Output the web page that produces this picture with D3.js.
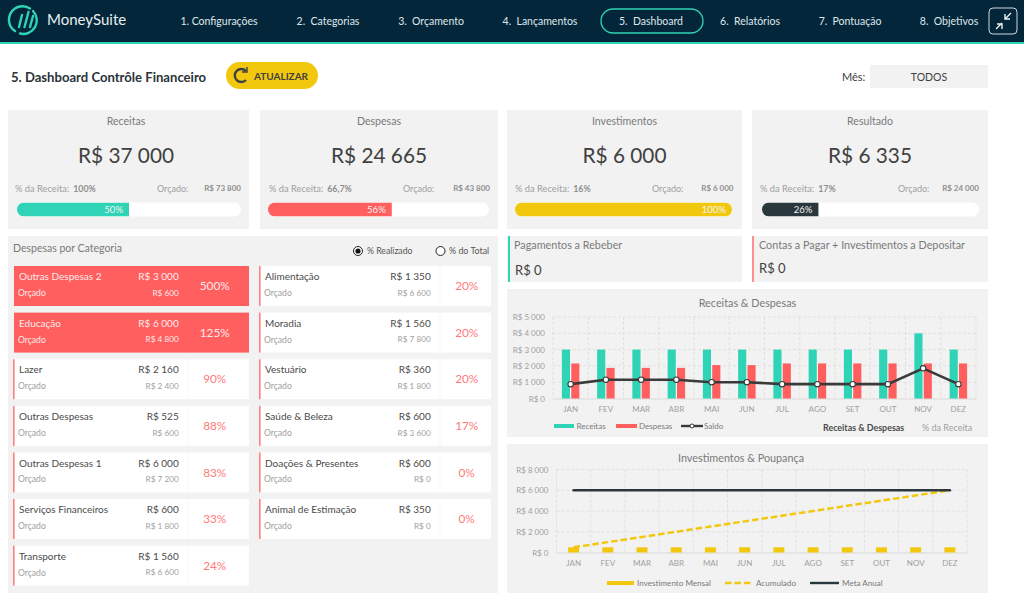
<!DOCTYPE html>
<html>
<head>
<meta charset="utf-8">
<script src="https://cdn.jsdelivr.net/npm/d3@7"></script>
<style>
  body { margin: 0; background: #fff; }
  svg { display: block; }
  text { font-family: Lato, "Open Sans", sans-serif; }
</style>
</head>
<body>
<svg id="board" width="1024" height="602"></svg>
<script>
// menu
var navLabels = ['1. Configurações', '2.  Categorias', '3.  Orçamento', '4.  Lançamentos', '5.  Dashboard', '6.  Relatórios', '7.  Pontuação', '8.  Objetivos'];
var navCenters = [219, 328, 431, 540, 651, 750, 850, 949];

// top cards
var kpiTitles = ['Receitas', 'Despesas', 'Investimentos', 'Resultado'];
var kpiValues = [37000, 24665, 6000, 6335];
var kpiShare = ['100%', '66,7%', '16%', '17%'];
var kpiBudget = [73800, 43800, 6000, 24000];
var kpiProgress = [50, 56, 100, 26];

// expenses by category
var catNames = ['Outras Despesas 2', 'Educação', 'Lazer', 'Outras Despesas', 'Outras Despesas 1', 'Serviços Financeiros', 'Transporte', 'Alimentação', 'Moradia', 'Vestuário', 'Saúde & Beleza', 'Doações & Presentes', 'Animal de Estimação'];
var catRealized = [3000, 6000, 2160, 525, 6000, 600, 1560, 1350, 1560, 360, 600, 600, 350];
var catBudget = [600, 4800, 2400, 600, 7200, 1800, 6600, 6600, 7800, 1800, 3600, 0, 0];
var catPct = [500, 125, 90, 88, 83, 33, 24, 20, 20, 20, 17, 0, 0];

// monthly charts
var months = ['JAN', 'FEV', 'MAR', 'ABR', 'MAI', 'JUN', 'JUL', 'AGO', 'SET', 'OUT', 'NOV', 'DEZ'];
var receitas = [3000, 3000, 3000, 3000, 3000, 3000, 3000, 3000, 3000, 3000, 4000, 3000];
var despesas = [2150, 1880, 1880, 1880, 2050, 2050, 2150, 2150, 2150, 2150, 2150, 2150];
var saldo = [880, 1150, 1150, 1150, 1000, 1000, 880, 880, 880, 880, 1850, 880];
var ticksReceitas = [0, 1000, 2000, 3000, 4000, 5000];

var investMensal = [500, 500, 500, 500, 500, 500, 500, 500, 500, 500, 500, 500];
var acumulado = [500, 1000, 1500, 2000, 2500, 3000, 3500, 4000, 4500, 5000, 5500, 6000];
var metaAnual = [6000, 6000, 6000, 6000, 6000, 6000, 6000, 6000, 6000, 6000, 6000, 6000];
var ticksInvest = [0, 2000, 4000, 6000, 8000];

var TEAL = '#2fd3b5', RED = '#ff5f5f', YELLOW = '#f2c80f', DARK = '#2a373c', NAVY = '#04263b';
var PANEL = '#f2f2f2', INK = '#404040', MID = '#7a7a7a', SOFT = '#a0a0a0';

var brl = d3.formatLocale({ decimal: ',', thousands: ' ', grouping: [3], currency: ['R$ ', ''] }).format('$,.0f');

var svg = d3.select('#board');

// small helpers so the layout code below stays readable
function label(g, x, y, txt, size, color, anchor, weight) {
  return g.append('text')
    .attr('x', x).attr('y', y)
    .attr('dy', '0.35em')
    .attr('font-size', size)
    .attr('fill', color)
    .attr('text-anchor', anchor || 'start')
    .attr('font-weight', weight || 400)
    .text(txt);
}
function box(g, x, y, w, h, fill, r) {
  return g.append('rect').attr('x', x).attr('y', y).attr('width', w).attr('height', h).attr('fill', fill).attr('rx', r || 0);
}

// header
box(svg, 0, 0, 1024, 42, NAVY);
box(svg, 0, 42, 1024, 2, TEAL);

var logo = svg.append('g').attr('fill', 'none').attr('stroke', TEAL).attr('stroke-width', 2.4).attr('stroke-linecap', 'round');
logo.append('path').attr('d', 'M15 31 A13.5 13.5 0 0 1 30 8.5');
logo.append('path').attr('d', 'M33 11 A13.5 13.5 0 0 1 20 33.5');
logo.append('path').attr('d', 'M19 27 L22 15 M24.5 27 L28.5 12 M30 27 L33 16');
label(svg, 47, 19.5, 'MoneySuite', 15, '#e8eef0');

svg.selectAll('.nav').data(navLabels).join('text')
  .attr('class', 'nav')
  .attr('x', function(d, i) { return navCenters[i]; })
  .attr('y', 21)
  .attr('dy', '0.35em')
  .attr('text-anchor', 'middle')
  .attr('font-size', 10.5)
  .attr('fill', '#dfe6ea')
  .style('white-space', 'pre')
  .text(function(d) { return d; });

svg.append('rect').attr('x', 601).attr('y', 9).attr('width', 102).attr('height', 24).attr('rx', 12)
  .attr('fill', 'none').attr('stroke', TEAL).attr('stroke-width', 1.3);
svg.append('rect').attr('x', 989).attr('y', 8).attr('width', 28).attr('height', 26).attr('rx', 4)
  .attr('fill', 'none').attr('stroke', '#cfd8dc').attr('stroke-width', 1);
svg.append('path')
  .attr('d', 'M1011 13 L1005 19 M1005 14 V19 H1010 M996 29 L1002 23 M997 24 H1002 V29')
  .attr('fill', 'none').attr('stroke', '#eef2f3').attr('stroke-width', 1.4);

// page title row
label(svg, 11, 77, '5. Dashboard Contrôle Financeiro', 13.1, '#2b3338', 'start', 700);
box(svg, 226, 62, 92, 27, YELLOW, 13.5);
svg.append('path').attr('d', 'M246 71 A6.5 6.5 0 1 0 246 80').attr('fill', 'none').attr('stroke', INK).attr('stroke-width', 2.4);
svg.append('path').attr('d', 'M247 67 V72 H242').attr('fill', 'none').attr('stroke', INK).attr('stroke-width', 1.4);
label(svg, 254, 76, 'ATUALIZAR', 10, INK, 'start', 700);
label(svg, 842, 77, 'Mês:', 11, INK);
box(svg, 870, 65, 118, 23, PANEL);
label(svg, 929, 77, 'TODOS', 10.5, INK, 'middle');

// KPI cards
var kpiColors = [TEAL, RED, YELLOW, DARK];
var kpiX = [8, 260, 507, 752];
var kpiW = [241, 238, 235, 236];
var kpiMid = [126, 379, 624.5, 870];
var shareX = [15, 269, 515, 760];
var orcadoX = [157, 403, 652, 898];
var budgetEnd = [241, 490, 733.5, 979];
var barX = [17, 268, 515, 762];
var barW = [224, 221, 217, 217];

kpiTitles.forEach(function(title, i) {
  var g = svg.append('g');
  box(g, kpiX[i], 110, kpiW[i], 119, PANEL);
  label(g, kpiMid[i], 121.5, title, 10.6, MID, 'middle');
  label(g, kpiMid[i], 155.5, brl(kpiValues[i]), 20.8, INK, 'middle');
  var shareText = label(g, shareX[i], 188.5, '% da Receita:', 9.3, SOFT);
  shareText.append('tspan').attr('dx', 4).attr('font-weight', 700).attr('fill', '#8f8f8f').attr('font-size', 8.8).text(kpiShare[i]);
  label(g, orcadoX[i], 188.5, 'Orçado:', 9, SOFT);
  label(g, budgetEnd[i], 188.5, brl(kpiBudget[i]), 8, '#8f8f8f', 'end', 700);

  var scale = d3.scaleLinear().domain([0, 100]).range([0, barW[i]]);
  svg.append('clipPath').attr('id', 'track' + i).append('rect')
    .attr('x', barX[i]).attr('y', 202.5).attr('width', barW[i]).attr('height', 14).attr('rx', 7);
  box(g, barX[i], 202.5, barW[i], 14, '#fff', 7);
  box(g, barX[i], 202.5, scale(kpiProgress[i]), 14, kpiColors[i]).attr('clip-path', 'url(#track' + i + ')');
  label(g, barX[i] + scale(kpiProgress[i]) - 6, 209.5, kpiProgress[i] + '%', 9.5, '#f4f4f4', 'end');
});

// receivable / payable strips
[['Pagamentos a Rebeber', 507, TEAL, 235, 7, 270], ['Contas a Pagar + Investimentos a Depositar', 752, '#ff8f8f', 236, 7, 268]].forEach(function(s) {
  box(svg, s[1], 236, s[3], 46, PANEL);
  box(svg, s[1] + (s[1] === 507 ? 1 : 0), 236, 2, 46, s[2]);
  label(svg, s[1] + s[4], 245.5, s[0], 10.8, MID);
  label(svg, s[1] + s[4] + (s[1] === 507 ? 1 : 0), s[5], brl(0), 13, INK);
});

// expenses panel
box(svg, 8, 236, 490, 357, PANEL);
label(svg, 13, 248, 'Despesas por Categoria', 10.5, MID);
svg.append('circle').attr('cx', 358).attr('cy', 251).attr('r', 4.5).attr('fill', '#fff').attr('stroke', '#222');
svg.append('circle').attr('cx', 358).attr('cy', 251).attr('r', 2.6).attr('fill', '#111');
label(svg, 367, 251, '% Realizado', 8.7, '#555');
svg.append('circle').attr('cx', 440.5).attr('cy', 251).attr('r', 4.5).attr('fill', '#fff').attr('stroke', '#222');
label(svg, 449, 251, '% do Total', 8.9, '#555');

var catCards = svg.selectAll('.cat').data(catNames).join('g')
  .attr('class', 'cat')
  .attr('transform', function(d, i) {
    var col = i < 7 ? 0 : 1, row = i < 7 ? i : i - 7;
    return 'translate(' + (col ? 259 : 13) + ',' + (266 + row * 46.6) + ')';
  });

catCards.each(function(name, i) {
  var g = d3.select(this);
  var right = i < 7 ? 236 : 232;
  var split = i < 7 ? 174.7 : 180.7;
  var hot = catPct[i] > 100;
  box(g, hot ? 1 : 0, 0, hot ? right - 1 : right, 40, hot ? RED : '#fff');
  if (!hot) {
    box(g, 0, 0, 1.6, 40, '#ff8080');
    box(g, split, 0, 0.6, 40, PANEL);
  }
  var pale = '#fbeaea';
  label(g, 6, 10.7, name, 10, hot ? pale : '#4a4a4a');
  label(g, split - 9, 10.7, brl(catRealized[i]), 10, hot ? pale : '#4a4a4a', 'end');
  label(g, 5, 27, 'Orçado', 8.6, hot ? pale : SOFT);
  label(g, split - 9, 27, brl(catBudget[i]), 8.2, hot ? pale : SOFT, 'end');
  label(g, split + 27, 20, catPct[i] + '%', 11.8, hot ? pale : '#ff7a7a', 'middle');
});

// shared chart frame: grid, month labels and value labels
function chartFrame(top, height, title, titleX, titleY, titleSize, plot, ticks, maxV) {
  var g = svg.append('g');
  box(g, 507, top, 481, height, PANEL);
  label(g, titleX, titleY, title, titleSize, MID, 'middle');

  var x = d3.scaleBand().domain(months).range([plot.left, plot.right]);
  var y = d3.scaleLinear().domain([0, maxV]).range([plot.bottom, plot.top]);

  var grid = g.append('g');
  grid.selectAll('.h').data(ticks.slice(1)).join('line')
    .attr('x1', plot.left).attr('x2', plot.right)
    .attr('y1', function(d) { return y(d); }).attr('y2', function(d) { return y(d); })
    .attr('stroke', '#e0e0e0').attr('stroke-dasharray', '3,2');
  grid.selectAll('.v').data(months).join('line')
    .attr('x1', function(d) { return x(d) + x.bandwidth(); }).attr('x2', function(d) { return x(d) + x.bandwidth(); })
    .attr('y1', plot.top).attr('y2', plot.bottom)
    .attr('stroke', '#e0e0e0').attr('stroke-dasharray', '3,2');
  grid.append('line').attr('x1', plot.left).attr('x2', plot.left).attr('y1', plot.top).attr('y2', plot.bottom)
    .attr('stroke', '#e0e0e0').attr('stroke-dasharray', '3,2');

  var yAxis = g.append('g').attr('transform', 'translate(' + plot.left + ',0)')
    .call(d3.axisLeft(y).tickValues(ticks).tickFormat(brl).tickSize(0).tickPadding(plot.pad));
  yAxis.select('.domain').remove();
  yAxis.selectAll('text').attr('font-size', 8).attr('fill', SOFT).style('font-family', 'Lato');

  var xAxis = g.append('g').attr('transform', 'translate(0,' + plot.bottom + ')')
    .call(d3.axisBottom(x).tickSize(0).tickPadding(plot.xPad));
  xAxis.select('.domain').attr('stroke', '#d9d9d9');
  xAxis.selectAll('text').attr('font-size', 8).attr('fill', SOFT).style('font-family', 'Lato');

  return { g: g, x: x, y: y };
}

// Receitas & Despesas
var c1 = chartFrame(289, 148, 'Receitas & Despesas', 747.5, 303, 10.8, { left: 553, right: 976, top: 317, bottom: 398.5, pad: 8, xPad: 8 }, ticksReceitas, 5000);
var inner = d3.scaleBand().domain(['r', 'd']).range([0, c1.x.bandwidth()]).paddingInner(0.13).paddingOuter(0.95);

c1.g.selectAll('.rec').data(receitas).join('rect')
  .attr('x', function(d, i) { return c1.x(months[i]) + inner('r'); })
  .attr('y', function(d) { return c1.y(d); })
  .attr('width', inner.bandwidth())
  .attr('height', function(d) { return c1.y(0) - c1.y(d); })
  .attr('fill', TEAL);
c1.g.selectAll('.des').data(despesas).join('rect')
  .attr('x', function(d, i) { return c1.x(months[i]) + inner('d'); })
  .attr('y', function(d) { return c1.y(d); })
  .attr('width', inner.bandwidth())
  .attr('height', function(d) { return c1.y(0) - c1.y(d); })
  .attr('fill', RED);

var saldoLine = d3.line()
  .x(function(d, i) { return c1.x(months[i]) + c1.x.bandwidth() / 2; })
  .y(function(d) { return c1.y(d); });
c1.g.append('path').attr('d', saldoLine(saldo)).attr('fill', 'none').attr('stroke', '#3a3a3a').attr('stroke-width', 2.6);
c1.g.selectAll('.sal').data(saldo).join('circle')
  .attr('cx', function(d, i) { return c1.x(months[i]) + c1.x.bandwidth() / 2; })
  .attr('cy', function(d) { return c1.y(d); })
  .attr('r', 2.7).attr('fill', '#fff').attr('stroke', '#3a3a3a').attr('stroke-width', 1.1);

box(c1.g, 554, 424, 20, 4, TEAL);
label(c1.g, 576.5, 426, 'Receitas', 8, MID);
box(c1.g, 616, 424, 21, 4, RED);
label(c1.g, 639, 426, 'Despesas', 8, MID);
c1.g.append('line').attr('x1', 681).attr('x2', 703).attr('y1', 426).attr('y2', 426).attr('stroke', '#3a3a3a').attr('stroke-width', 2.4);
c1.g.append('circle').attr('cx', 692).attr('cy', 426).attr('r', 2).attr('fill', '#fff').attr('stroke', '#3a3a3a');
label(c1.g, 704, 426, 'Saldo', 8, MID);
label(c1.g, 823, 428, 'Receitas & Despesas', 8.9, '#4a4a4a', 'start', 700);
label(c1.g, 922, 428, '% da Receita', 9, SOFT);

// Investimentos & Poupança
var c2 = chartFrame(444, 149, 'Investimentos & Poupança', 741, 458, 10.8, { left: 556.5, right: 967, top: 469.5, bottom: 552.5, pad: 8, xPad: 8 }, ticksInvest, 8000);

c2.g.selectAll('.inv').data(investMensal).join('rect')
  .attr('x', function(d, i) { return c2.x(months[i]) + c2.x.bandwidth() / 2 - 5.5; })
  .attr('y', function(d) { return c2.y(d); })
  .attr('width', 11)
  .attr('height', function(d) { return c2.y(0) - c2.y(d); })
  .attr('fill', YELLOW);

var investLine = d3.line()
  .x(function(d, i) { return c2.x(months[i]) + c2.x.bandwidth() / 2; })
  .y(function(d) { return c2.y(d); });
c2.g.append('path').attr('d', investLine(acumulado)).attr('fill', 'none').attr('stroke', YELLOW).attr('stroke-width', 2.5).attr('stroke-dasharray', '6.5,3');
c2.g.append('path').attr('d', investLine(metaAnual)).attr('fill', 'none').attr('stroke', DARK).attr('stroke-width', 2.6).attr('stroke-linecap', 'round');

box(c2.g, 607, 581, 27, 4, YELLOW);
label(c2.g, 637, 583, 'Investimento Mensal', 8.1, MID);
c2.g.append('line').attr('x1', 725).attr('x2', 751).attr('y1', 583).attr('y2', 583).attr('stroke', YELLOW).attr('stroke-width', 2.4).attr('stroke-dasharray', '6.5,3');
label(c2.g, 756, 583, 'Acumulado', 8.1, MID);
c2.g.append('line').attr('x1', 810).attr('x2', 839).attr('y1', 583).attr('y2', 583).attr('stroke', DARK).attr('stroke-width', 2.4);
label(c2.g, 842, 583, 'Meta Anual', 8.1, MID);
</script>
</body>
</html>
